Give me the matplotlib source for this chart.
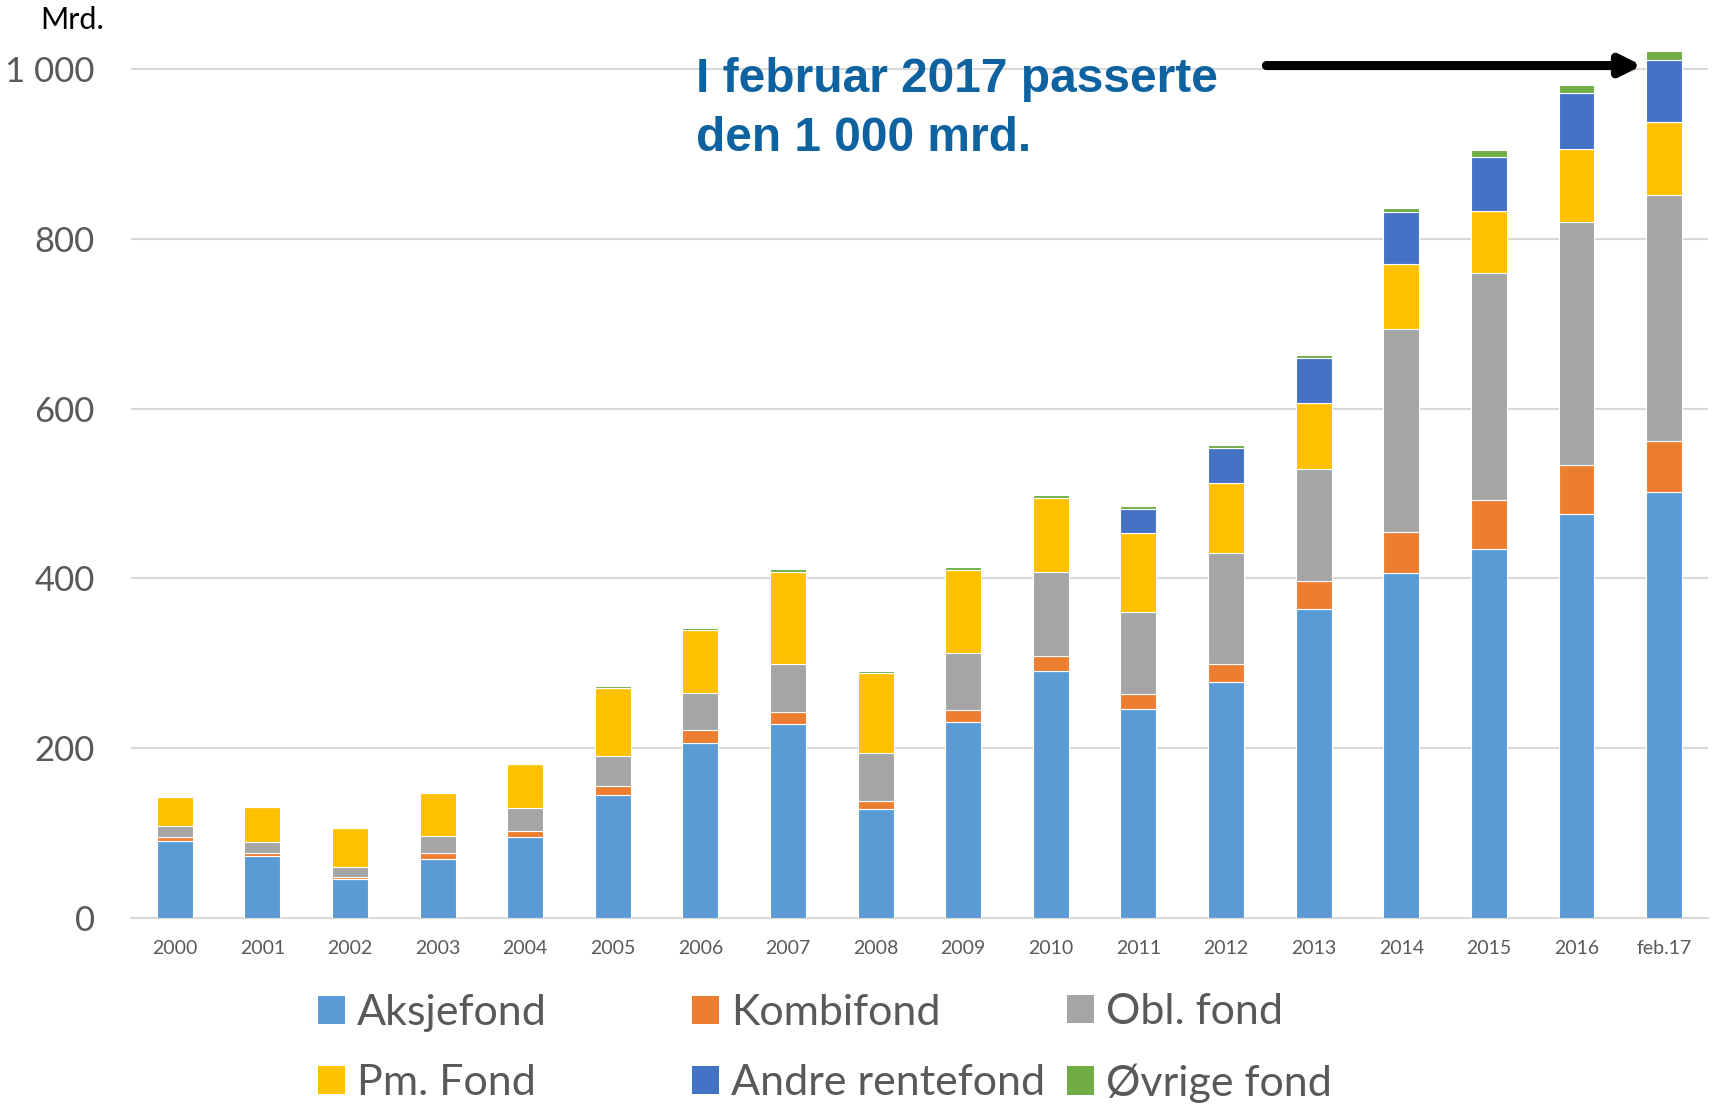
import matplotlib
matplotlib.use("Agg")
import matplotlib.pyplot as plt
from matplotlib.patches import Patch
import numpy as np

categories = ["2000", "2001", "2002", "2003", "2004", "2005", "2006", "2007", "2008",
              "2009", "2010", "2011", "2012", "2013", "2014", "2015", "2016", "feb.17"]
aksjefond = [91, 73, 46, 70, 95, 145, 206, 228, 128, 231, 291, 246, 278, 364, 406, 434, 476, 502]
kombifond = [4, 4, 2, 6, 7, 10, 15, 15, 10, 14, 17, 18, 21, 33, 49, 58, 58, 60]
obl_fond = [13, 12, 12, 21, 28, 36, 44, 56, 56, 67, 99, 96, 131, 132, 239, 268, 286, 290]
pm_fond = [34, 42, 46, 50, 51, 80, 74, 109, 94, 98, 88, 93, 82, 78, 76, 73, 86, 85]
andre_rentefond = [0, 0, 0, 0, 0, 0, 0, 0, 0, 0, 0, 29, 41, 53, 61, 63, 66, 74]
ovrige_fond = [0.5, 0.5, 0.5, 0.5, 0.5, 2, 3, 3, 3, 3, 3, 3, 4, 3, 5, 8, 9, 10]

series_names = ["Aksjefond", "Kombifond", "Obl. fond", "Pm. Fond", "Andre rentefond", "Øvrige fond"]
series_vals = [aksjefond, kombifond, obl_fond, pm_fond, andre_rentefond, ovrige_fond]
colors = ["#5B9BD5", "#ED7D31", "#A5A5A5", "#FFC000", "#4472C4", "#70AD47"]

yticks = [0, 200, 400, 600, 800, 1000]
ytick_labels = ["0", "200", "400", "600", "800", "1 000"]

plt.rcParams['font.family'] = ['Lato', 'DejaVu Sans']

fig = plt.figure(figsize=(17.13, 11.04), dpi=100)
ax = fig.add_axes([0.0765, 0.1685, 0.9205, 0.8075])

x = np.arange(len(categories))
bottom = np.zeros(len(categories))
for name, vals, c in zip(series_names, series_vals, colors):
    v = np.array(vals, dtype=float)
    ax.bar(x, v, width=0.41, bottom=bottom, color=c, edgecolor="white",
           linewidth=0.8, label=name, zorder=3)
    bottom += v

ax.set_xlim(-0.5, len(categories) - 0.5)
ax.set_ylim(0, 1050)
ax.set_yticks(yticks)
ax.set_yticklabels(ytick_labels, fontsize=25, color="#595959")
ax.set_xticks(x)
ax.set_xticklabels(categories, fontsize=14, color="#595959")
ax.tick_params(axis="y", length=0, pad=26)
ax.tick_params(axis="x", length=0, pad=16)
ax.grid(axis="y", color="#D9D9D9", linewidth=1.5, zorder=0)
for s in ["top", "right", "left"]:
    ax.spines[s].set_visible(False)
ax.spines["bottom"].set_color("#D9D9D9")
ax.spines["bottom"].set_linewidth(1.5)

fig.text(40 / 1713, 1 - 20 / 1104, "Mrd.", fontsize=22, color="black",
         ha="left", va="center")

ax.text(696 / 1713, 1 - 109 / 1104, "I februar 2017 passerte\nden 1 000 mrd.",
        transform=fig.transFigure, fontsize=34.5, fontweight="bold",
        color="#0E62A0", family="Liberation Sans", ha="left", va="center",
        linespacing=1.38, zorder=5)

n = len(categories)
ax.annotate("", xy=(n - 1 - 0.25, 1004), xytext=(n - 1 - 4.54, 1004),
            arrowprops=dict(arrowstyle="-|>,head_length=1.2,head_width=0.6",
                            color="black", lw=6.5, shrinkA=0, shrinkB=0),
            zorder=6)

# legend: three columns, row-wise order as in the reference
col_left_px = [318, 692, 1067]
for j, xl in enumerate(col_left_px):
    idx = [j, j + 3]
    hs = [Patch(facecolor=colors[i], edgecolor="none") for i in idx]
    labs = [series_names[i] for i in idx]
    fig.legend(hs, labs, loc="center left",
               bbox_to_anchor=(xl / 1713, 1 - 1048 / 1104), frameon=False,
               fontsize=31, labelcolor="#595959", handlelength=0.63,
               handleheight=0.63, handletextpad=0.28, labelspacing=0.74,
               borderpad=0, borderaxespad=0)

fig.savefig("out.png", dpi=100)
